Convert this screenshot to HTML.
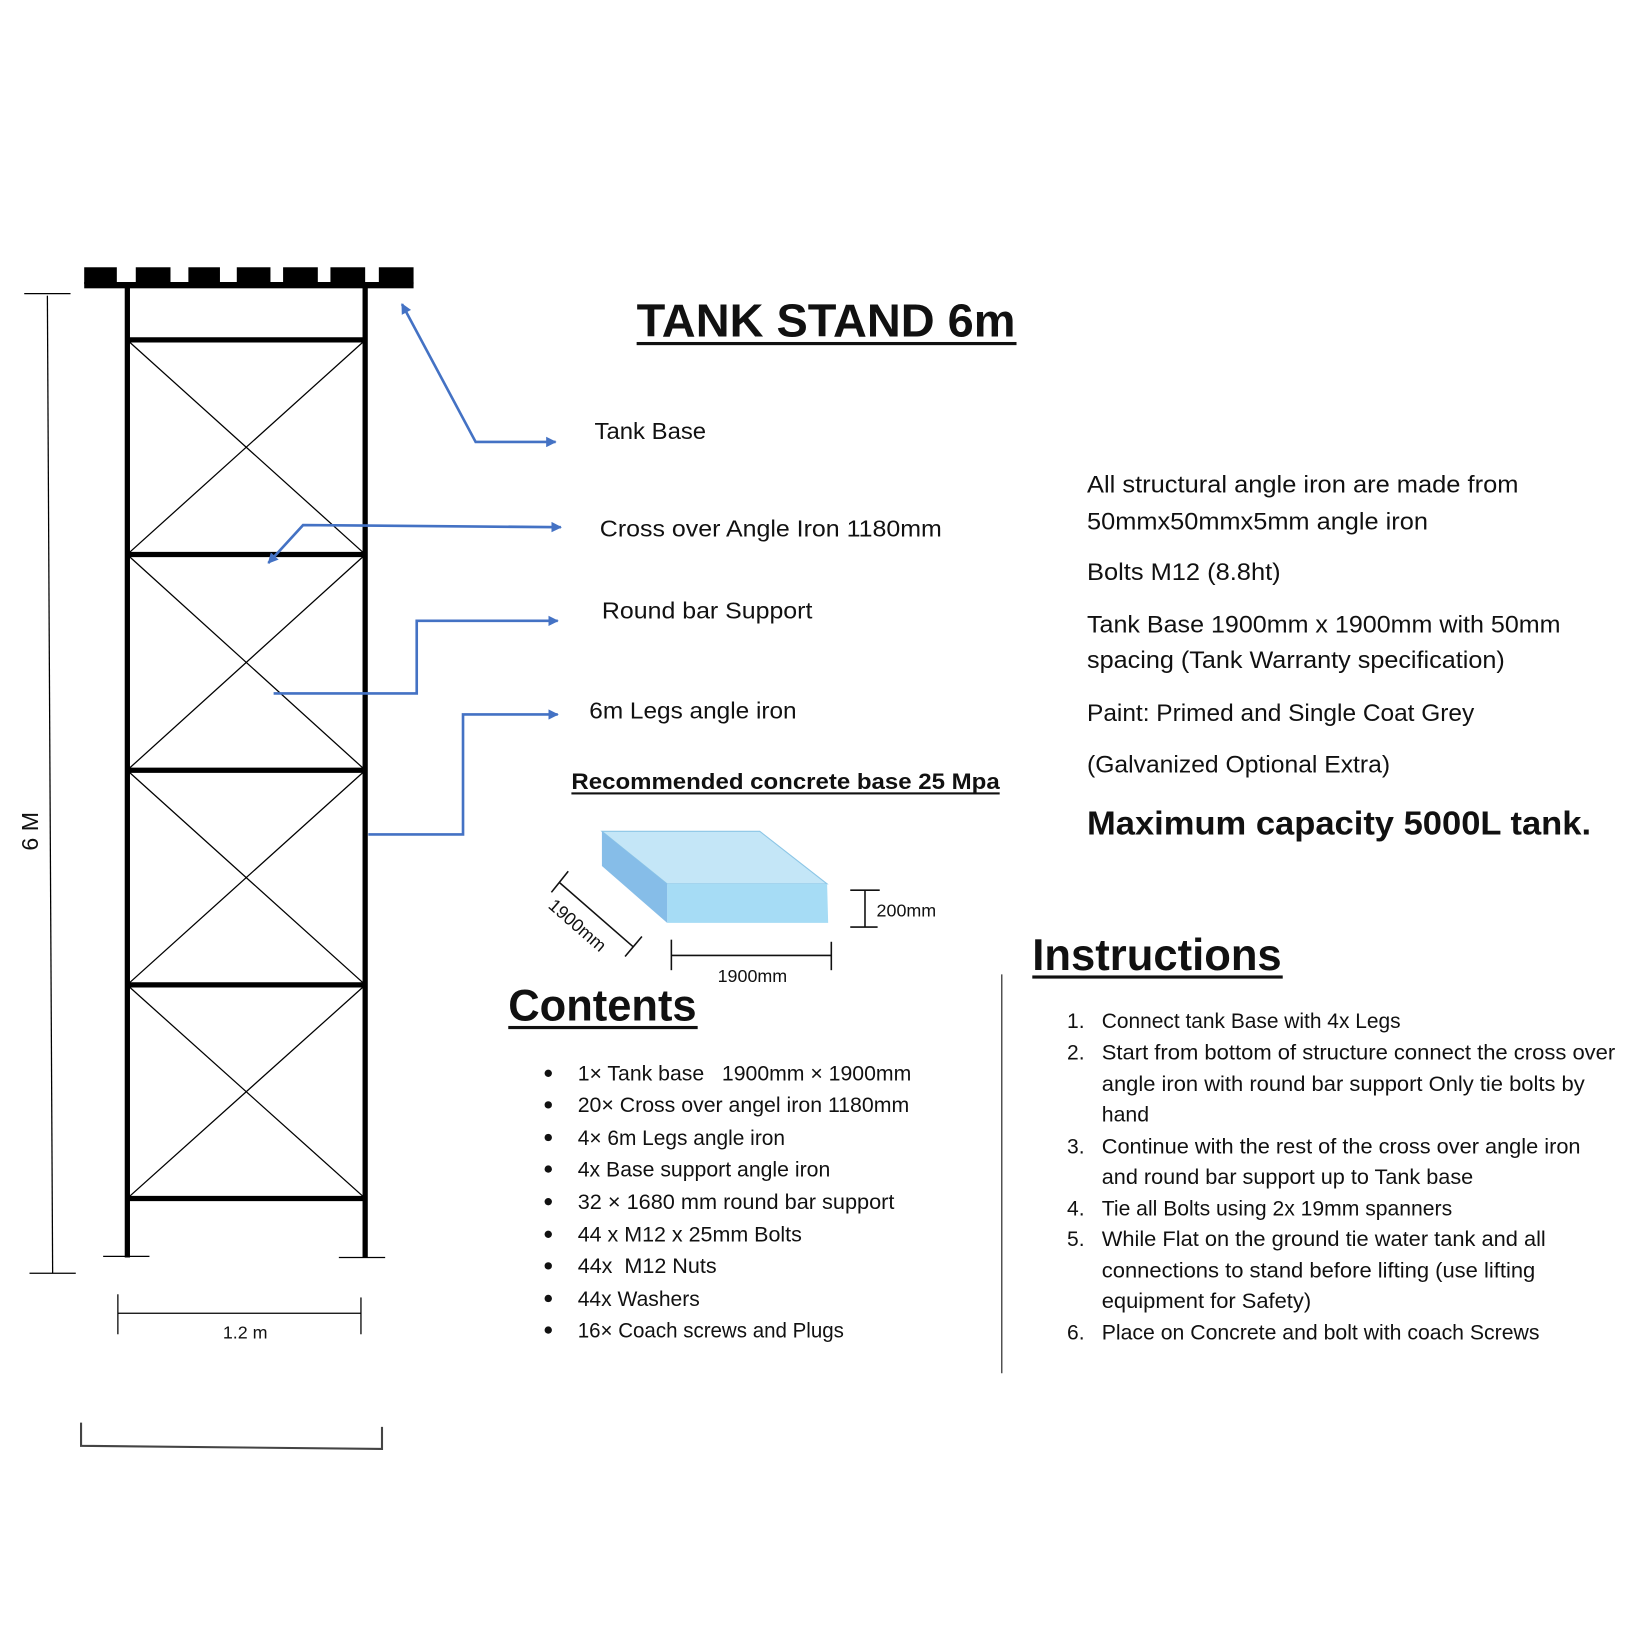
<!DOCTYPE html>
<html><head><meta charset="utf-8"><style>
html,body{margin:0;padding:0;background:#fff;}
svg{display:block;}
text{font-family:"Liberation Sans",sans-serif;fill:#111;}
</style></head><body>
<svg width="1650" height="1651" viewBox="0 0 1568 1569" xmlns="http://www.w3.org/2000/svg">
<defs>
<marker id="ah" viewBox="0 0 10 10" refX="9" refY="5" markerWidth="4" markerHeight="4" orient="auto-start-reverse"><path d="M0,0 L10,5 L0,10 z" fill="#4472C4"/></marker>
</defs>
<rect width="1568" height="1569" fill="#fff"/>
<!-- tank base -->
<rect x="80" y="268" width="313" height="6" fill="#000"/>
<g fill="#000">
<rect x="80" y="254" width="31" height="16"/><rect x="129" y="254" width="33" height="16"/>
<rect x="179" y="254" width="30" height="16"/><rect x="225" y="254" width="32" height="16"/>
<rect x="269" y="254" width="33" height="16"/><rect x="314" y="254" width="33" height="16"/>
<rect x="360" y="254" width="33" height="16"/>
</g>
<!-- legs -->
<g stroke="#000" stroke-width="5">
<line x1="121" y1="272" x2="121" y2="1195"/><line x1="347" y1="272" x2="347" y2="1195"/>
<line x1="121" y1="323" x2="347" y2="323"/><line x1="121" y1="527" x2="347" y2="527"/>
<line x1="121" y1="732" x2="347" y2="732"/><line x1="121" y1="936" x2="347" y2="936"/>
<line x1="121" y1="1139" x2="347" y2="1139"/>
</g>
<g stroke="#000" stroke-width="1.2">
<line x1="123" y1="325" x2="345" y2="525"/><line x1="345" y1="325" x2="123" y2="525"/>
<line x1="123" y1="529" x2="345" y2="730"/><line x1="345" y1="529" x2="123" y2="730"/>
<line x1="123" y1="734" x2="345" y2="934"/><line x1="345" y1="734" x2="123" y2="934"/>
<line x1="123" y1="938" x2="345" y2="1137"/><line x1="345" y1="938" x2="123" y2="1137"/>
<line x1="98" y1="1194" x2="142" y2="1194"/><line x1="322" y1="1195" x2="366" y2="1195"/>
<line x1="23" y1="279" x2="67" y2="279"/><line x1="45" y1="281" x2="50" y2="1210"/>
<line x1="28" y1="1210" x2="72" y2="1210"/>
<line x1="112" y1="1248" x2="343" y2="1248"/><line x1="112" y1="1230" x2="112" y2="1268"/><line x1="343" y1="1233" x2="343" y2="1268"/>
</g>
<path d="M77,1352 L77,1374 L363,1377 L363,1356" stroke="#444" stroke-width="2" fill="none"/>
<text x="0" y="0" font-size="22" transform="translate(36,790) rotate(-90)" text-anchor="middle">6 M</text>
<text x="233" y="1272" font-size="17" text-anchor="middle">1.2 m</text>
<!-- arrows -->
<g stroke="#4472C4" stroke-width="2.5" fill="none">
<polyline points="382,289 452,420 528,420" marker-start="url(#ah)" marker-end="url(#ah)"/>
<polyline points="255,535 288,499 533,501" marker-start="url(#ah)" marker-end="url(#ah)"/>
<polyline points="260,659 396,659 396,590 530,590" marker-end="url(#ah)"/>
<polyline points="350,793 440,793 440,679 530,679" marker-end="url(#ah)"/>
</g>
<g font-size="22">
<text x="565" y="417" textLength="106" lengthAdjust="spacingAndGlyphs">Tank Base</text>
<text x="570" y="510" textLength="325" lengthAdjust="spacingAndGlyphs">Cross over Angle Iron 1180mm</text>
<text x="572" y="588" textLength="200" lengthAdjust="spacingAndGlyphs">Round bar Support</text>
<text x="560" y="683" textLength="197" lengthAdjust="spacingAndGlyphs">6m Legs angle iron</text>
</g>
<text x="605" y="320" font-size="44" font-weight="bold" textLength="360" lengthAdjust="spacingAndGlyphs">TANK STAND 6m</text>
<rect x="605" y="325" width="361" height="3" fill="#111"/>
<text x="543" y="750" font-size="21" font-weight="bold" textLength="407" lengthAdjust="spacingAndGlyphs">Recommended concrete base 25 Mpa</text>
<rect x="543" y="753" width="407" height="2" fill="#111"/>
<!-- slab -->
<polygon points="572,790 722,790 786,840 634,840" fill="#c4e6f7" stroke="#8cc6e6" stroke-width="1"/>
<polygon points="634,840 786,840 787,877 634,877" fill="#a6dcf5"/>
<polygon points="572,790 634,840 634,877 572,823" fill="#86bde8"/>
<g stroke="#111" stroke-width="1.5">
<line x1="532" y1="839" x2="602" y2="900"/><line x1="524" y1="848" x2="540" y2="828"/><line x1="594" y1="909" x2="610" y2="890"/>
<line x1="638" y1="908" x2="790" y2="908"/><line x1="638" y1="893" x2="638" y2="922"/><line x1="790" y1="895" x2="790" y2="922"/>
<line x1="822" y1="846" x2="822" y2="881"/><line x1="808" y1="846" x2="836" y2="846"/><line x1="808" y1="881" x2="834" y2="881"/>
</g>
<text x="0" y="0" font-size="17" transform="translate(520,862) rotate(41)">1900mm</text>
<text x="715" y="933" font-size="17" text-anchor="middle">1900mm</text>
<text x="833" y="871" font-size="17">200mm</text>
<!-- contents -->
<text x="483" y="970" font-size="42" font-weight="bold" textLength="179" lengthAdjust="spacingAndGlyphs">Contents</text>
<rect x="483" y="975" width="180" height="3" fill="#111"/>
<g font-size="20">
<g fill="#111"><circle cx="521" cy="1020" r="3.5"/><circle cx="521" cy="1050" r="3.5"/><circle cx="521" cy="1081" r="3.5"/><circle cx="521" cy="1111" r="3.5"/><circle cx="521" cy="1142" r="3.5"/><circle cx="521" cy="1173" r="3.5"/><circle cx="521" cy="1203" r="3.5"/><circle cx="521" cy="1234" r="3.5"/><circle cx="521" cy="1264" r="3.5"/></g>
<text x="549" y="1027" textLength="317" lengthAdjust="spacingAndGlyphs" xml:space="preserve">1× Tank base   1900mm × 1900mm</text>
<text x="549" y="1057" textLength="315" lengthAdjust="spacingAndGlyphs">20× Cross over angel iron 1180mm</text>
<text x="549" y="1088" textLength="197" lengthAdjust="spacingAndGlyphs">4× 6m Legs angle iron</text>
<text x="549" y="1118" textLength="240" lengthAdjust="spacingAndGlyphs">4x Base support angle iron</text>
<text x="549" y="1149" textLength="301" lengthAdjust="spacingAndGlyphs">32 × 1680 mm round bar support</text>
<text x="549" y="1180" textLength="213" lengthAdjust="spacingAndGlyphs">44 x M12 x 25mm Bolts</text>
<text x="549" y="1210" textLength="132" lengthAdjust="spacingAndGlyphs" xml:space="preserve">44x  M12 Nuts</text>
<text x="549" y="1241" textLength="116" lengthAdjust="spacingAndGlyphs">44x Washers</text>
<text x="549" y="1271" textLength="253" lengthAdjust="spacingAndGlyphs">16× Coach screws and Plugs</text>
</g>
<line x1="952" y1="926" x2="952" y2="1305" stroke="#333" stroke-width="1.2"/>
<!-- right column -->
<g font-size="23">
<text x="1033" y="468" textLength="410" lengthAdjust="spacingAndGlyphs">All structural angle iron are made from</text>
<text x="1033" y="503" textLength="324" lengthAdjust="spacingAndGlyphs">50mmx50mmx5mm angle iron</text>
<text x="1033" y="551" textLength="184" lengthAdjust="spacingAndGlyphs">Bolts M12 (8.8ht)</text>
<text x="1033" y="601" textLength="450" lengthAdjust="spacingAndGlyphs">Tank Base 1900mm x 1900mm with 50mm</text>
<text x="1033" y="635" textLength="397" lengthAdjust="spacingAndGlyphs">spacing (Tank Warranty specification)</text>
<text x="1033" y="685" textLength="368" lengthAdjust="spacingAndGlyphs">Paint: Primed and Single Coat Grey</text>
<text x="1033" y="734" textLength="288" lengthAdjust="spacingAndGlyphs">(Galvanized Optional Extra)</text>
</g>
<text x="1033" y="793" font-size="32" font-weight="bold" textLength="479" lengthAdjust="spacingAndGlyphs">Maximum capacity 5000L tank.</text>
<text x="981" y="922" font-size="42" font-weight="bold" textLength="237" lengthAdjust="spacingAndGlyphs">Instructions</text>
<rect x="981" y="927" width="238" height="3" fill="#111"/>
<g font-size="20">
<text x="1014" y="977">1.</text><text x="1014" y="1007">2.</text><text x="1014" y="1096">3.</text><text x="1014" y="1155">4.</text><text x="1014" y="1184">5.</text><text x="1014" y="1273">6.</text>
<text x="1047" y="977" textLength="284" lengthAdjust="spacingAndGlyphs">Connect tank Base with 4x Legs</text>
<text x="1047" y="1007" textLength="488" lengthAdjust="spacingAndGlyphs">Start from bottom of structure connect the cross over</text>
<text x="1047" y="1037" textLength="459" lengthAdjust="spacingAndGlyphs">angle iron with round bar support Only tie bolts by</text>
<text x="1047" y="1066" textLength="45" lengthAdjust="spacingAndGlyphs">hand</text>
<text x="1047" y="1096" textLength="455" lengthAdjust="spacingAndGlyphs">Continue with the rest of the cross over angle iron</text>
<text x="1047" y="1125" textLength="353" lengthAdjust="spacingAndGlyphs">and round bar support up to Tank base</text>
<text x="1047" y="1155" textLength="333" lengthAdjust="spacingAndGlyphs">Tie all Bolts using 2x 19mm spanners</text>
<text x="1047" y="1184" textLength="422" lengthAdjust="spacingAndGlyphs">While Flat on the ground tie water tank and all</text>
<text x="1047" y="1214" textLength="412" lengthAdjust="spacingAndGlyphs">connections to stand before lifting (use lifting</text>
<text x="1047" y="1243" textLength="199" lengthAdjust="spacingAndGlyphs">equipment for Safety)</text>
<text x="1047" y="1273" textLength="416" lengthAdjust="spacingAndGlyphs">Place on Concrete and bolt with coach Screws</text>
</g>
</svg>
</body></html>
